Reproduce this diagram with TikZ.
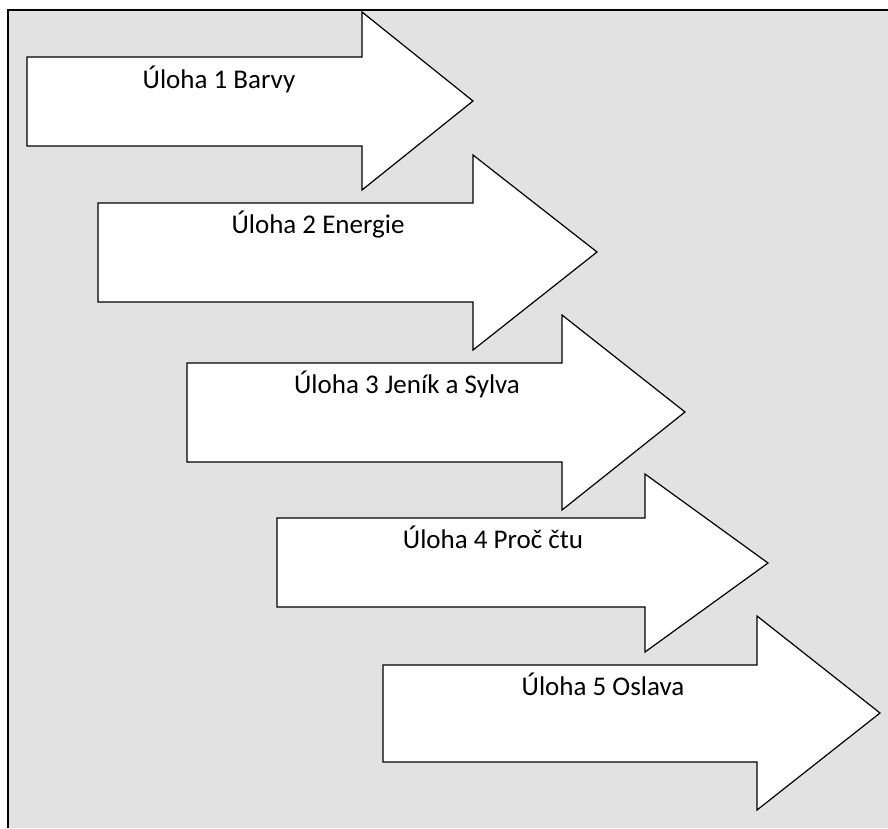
\documentclass[tikz,border=0pt]{standalone}
\usepackage{fontspec}
\setmainfont{Carlito}
\definecolor{bggray}{RGB}{226,226,226}
\tikzset{
  blockarrow/.style={draw=black, fill=white, line width=1.2pt, line join=miter},
  label/.style={anchor=base, inner sep=0pt, font=\fontsize{27}{32}\selectfont},
}
\begin{document}
\begin{tikzpicture}[x=1pt,y=-1pt]
\useasboundingbox (0,0) rectangle (888,828);
\fill[bggray] (8,10) rectangle (888,828);
\draw[line width=1.5pt] (8,828) -- (8,10) -- (888,10);
% arrows: L, T, B, base, headtop, headbottom, tip x, tip y
\foreach \L/\T/\B/\X/\HT/\HB/\tx/\ty in {
  27/57/146/362/12/190/473/101,
  98/203/302/473/155/350/597/252,
  187/363/462/562/315/510/685/412,
  277/518/607/645/474/652/768/563,
  383/665/762/757/616/810/880/713}{
  \draw[blockarrow] (\L,\T) -- (\X,\T) -- (\X,\HT) -- (\tx,\ty) -- (\X,\HB) -- (\X,\B) -- (\L,\B) -- cycle;
}
\node[label] (t1) at (219,88) {Úloha 1 Barvy};
\node[label] (t2) at (318,233) {Úloha 2 Energie};
\node[label] (t3) at (407,393) {Úloha 3 Jeník a Sylva};
\node[label] (t4) at (493,548) {Úloha 4 Proč čtu};
\node[label] (t5) at (603,695) {Úloha 5 Oslava};
\end{tikzpicture}
\end{document}
